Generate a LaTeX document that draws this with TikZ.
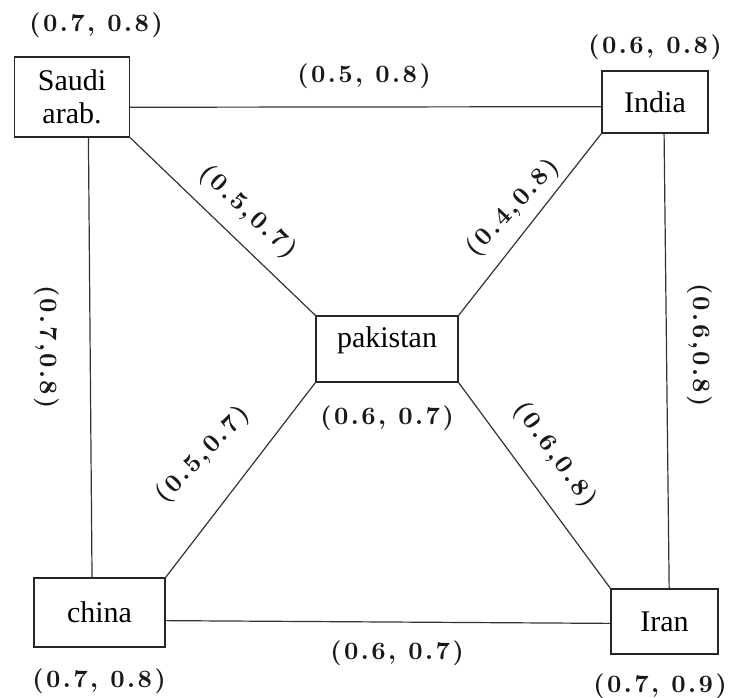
\documentclass[tikz,border=0pt]{standalone}
\usepackage{fontspec}
\setmainfont{Liberation Serif}
% bold, slightly spaced figures for the weight pairs
\newfontfamily\pairfont[Extension=.otf, LetterSpace=10]{lmroman10-bold}

\tikzset{
  country/.style={draw=black!85, line width=1.3pt, inner xsep=0pt, inner ysep=0pt,
    align=center, font=\fontsize{30}{33}\selectfont},
  link/.style={draw=black!80, line width=1.2pt},
  pair/.style={inner sep=0pt, text=black!90, font=\pairfont\fontsize{25}{29}\selectfont},
}

\begin{document}
\begin{tikzpicture}[x=1pt,y=-1pt]
\useasboundingbox[fill=white] (0,0) rectangle (736,698);

% countries
\node[country, minimum width=115pt, minimum height=80pt] (saudi) at (72,97) {Saudi\\arab.};
\node[country, minimum width=106pt, minimum height=62pt] (india) at (655,102) {India};
\node[country, minimum width=142pt, text height=31pt, text depth=35pt] (pak) at (387,349) {pakistan};
\node[country, minimum width=131pt, minimum height=69pt] (china) at (99.5,612.5) {china};
\node[country, minimum width=107pt, minimum height=65pt] (iran) at (664.5,621.5) {Iran};

% links
\draw[link] (saudi.-10) -- (india.185);
\draw[link] (saudi.-68) -- (china.102);
\draw[link] (india.-74) -- (iran.82);
\draw[link] (china.-7) -- (iran.182);
\draw[link] (saudi.south east) -- (pak.north west);
\draw[link] (india.south west) -- (pak.north east);
\draw[link] (pak.south west) -- (china.north east);
\draw[link] (pak.south east) -- (iran.north west);

% node weights
\node[pair] (wsaudi) at (96,25) {(0.7, 0.8)};
\node[pair] (windia) at (655,47) {(0.6, 0.8)};
\node[pair] (wpak) at (387,418) {(0.6, 0.7)};
\node[pair] (wchina) at (99,681) {(0.7, 0.8)};
\node[pair] (wiran) at (660,686) {(0.7, 0.9)};

% link weights
\node[pair] (wsi) at (364,76) {(0.5, 0.8)};
\node[pair] (wci) at (397,653) {(0.6, 0.7)};
\node[pair, rotate=-90] (wsc) at (47,347) {(0.7,0.8)};
\node[pair, rotate=-90] (wii) at (700,345) {(0.6,0.8)};
\node[pair, rotate=-43] (wsp) at (248,212) {(0.5,0.7)};
\node[pair, rotate=47] (wip) at (513,208) {(0.4,0.8)};
\node[pair, rotate=46] (wpc) at (203,455) {(0.5,0.7)};
\node[pair, rotate=-54] (wpi) at (555,455) {(0.6,0.8)};
\end{tikzpicture}
\end{document}
